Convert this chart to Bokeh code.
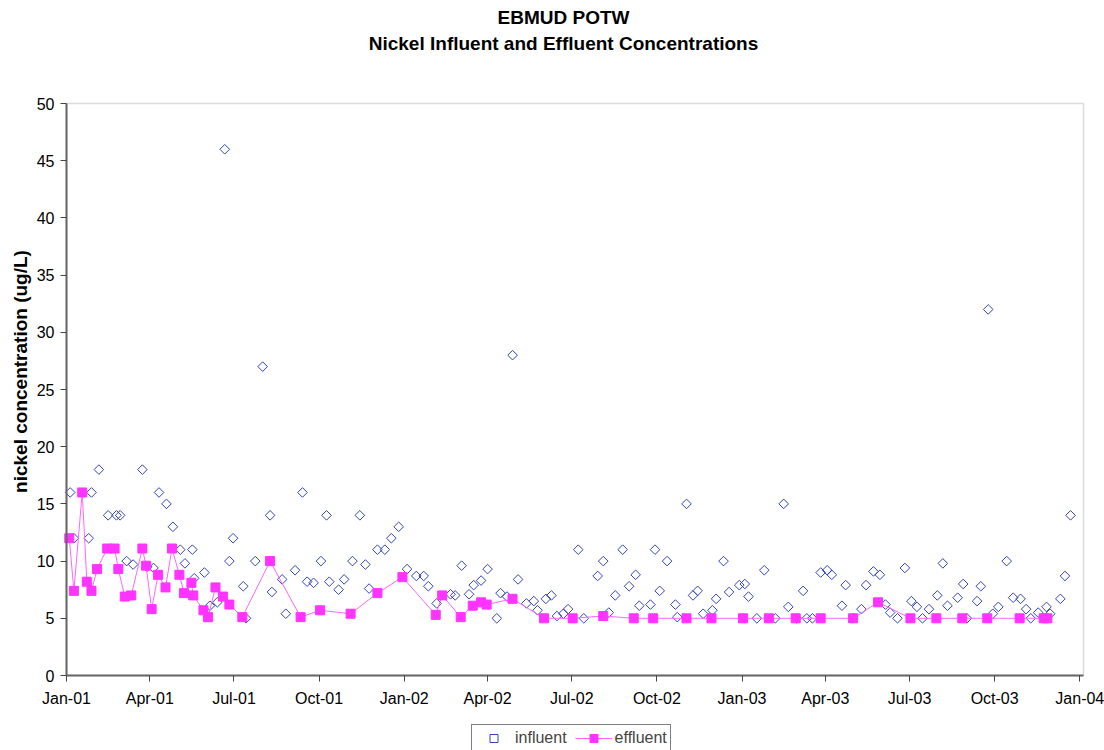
import math
import pandas as pd
from bokeh.plotting import figure
from bokeh.models import (Range1d, FixedTicker, DatetimeTickFormatter, DatetimeAxis, LinearAxis,
                          Label, Legend, LegendItem, BoxAnnotation)
from bokeh.embed import file_html
from bokeh.resources import INLINE

# Nickel sampling results, EBMUD POTW, 2001-2003 (ug/L)
influent_dates = [
    "2001-01-05", "2001-01-09", "2001-01-25", "2001-01-28", "2001-02-05", "2001-02-15",
    "2001-02-24", "2001-02-28", "2001-03-07", "2001-03-14", "2001-03-24", "2001-03-29",
    "2001-04-05", "2001-04-11", "2001-04-19", "2001-04-26", "2001-05-04", "2001-05-09",
    "2001-05-17", "2001-05-19", "2001-05-30", "2001-06-05", "2001-06-13", "2001-06-21",
    "2001-06-26", "2001-06-30", "2001-07-11", "2001-07-14", "2001-07-24", "2001-08-01",
    "2001-08-09", "2001-08-11", "2001-08-22", "2001-08-26", "2001-09-05", "2001-09-13",
    "2001-09-18", "2001-09-25", "2001-10-03", "2001-10-09", "2001-10-12", "2001-10-22",
    "2001-10-28", "2001-11-06", "2001-11-14", "2001-11-20", "2001-11-24", "2001-12-03",
    "2001-12-11", "2001-12-18", "2001-12-26", "2002-01-04", "2002-01-14", "2002-01-22",
    "2002-01-27", "2002-02-05", "2002-02-20", "2002-02-25", "2002-03-04", "2002-03-12",
    "2002-03-17", "2002-03-25", "2002-04-01", "2002-04-11", "2002-04-15", "2002-04-22",
    "2002-04-28", "2002-05-04", "2002-05-13", "2002-05-21", "2002-05-25", "2002-06-03",
    "2002-06-09", "2002-06-15", "2002-06-22", "2002-06-27", "2002-07-08", "2002-07-14",
    "2002-07-29", "2002-08-04", "2002-08-10", "2002-08-17", "2002-08-25", "2002-09-01",
    "2002-09-08", "2002-09-12", "2002-09-24", "2002-09-29", "2002-10-04", "2002-10-12",
    "2002-10-21", "2002-10-23", "2002-11-02", "2002-11-09", "2002-11-14", "2002-11-20",
    "2002-11-30", "2002-12-04", "2002-12-12", "2002-12-18", "2002-12-29", "2003-01-04",
    "2003-01-08", "2003-01-17", "2003-01-25", "2003-02-06", "2003-02-15", "2003-02-20",
    "2003-03-01", "2003-03-08", "2003-03-12", "2003-03-18", "2003-03-27", "2003-04-03",
    "2003-04-08", "2003-04-19", "2003-04-23", "2003-05-01", "2003-05-10", "2003-05-15",
    "2003-05-23", "2003-05-30", "2003-06-05", "2003-06-10", "2003-06-18", "2003-06-26",
    "2003-07-03", "2003-07-09", "2003-07-15", "2003-07-22", "2003-07-31", "2003-08-06",
    "2003-08-11", "2003-08-22", "2003-08-28", "2003-09-01", "2003-09-12", "2003-09-16",
    "2003-09-24", "2003-09-29", "2003-10-05", "2003-10-14", "2003-10-21", "2003-10-29",
    "2003-11-04", "2003-11-09", "2003-11-17", "2003-11-26", "2003-11-30", "2003-12-11",
    "2003-12-16", "2003-12-22",
]
influent_ni = [
    16, 12, 12, 16, 18, 14,
    14, 14, 10, 9.7, 18, 9.5,
    9.4, 16, 15, 13, 11, 9.8,
    11, 8.5, 9.0, 6.1, 6.4, 46,
    10, 12, 7.8, 5.0, 10, 27,
    14, 7.3, 8.4, 5.4, 9.2, 16,
    8.2, 8.1, 10, 14, 8.2, 7.5,
    8.4, 10, 14, 9.7, 7.6, 11,
    11, 12, 13, 9.3, 8.7, 8.7,
    7.8, 6.3, 7.1, 7.0, 9.6, 7.1,
    7.9, 8.3, 9.3, 5.0, 7.2, 6.9,
    28, 8.4, 6.3, 6.5, 5.7, 6.7,
    7.0, 5.2, 5.4, 5.8, 11, 5.0,
    8.7, 10, 5.5, 7.0, 11, 7.8,
    8.8, 6.1, 6.2, 11, 7.4, 10,
    6.2, 5.1, 15, 7.0, 7.4, 5.4,
    5.7, 6.7, 10, 7.3, 7.9, 8.0,
    6.9, 5.0, 9.2, 5.0, 15, 6.0,
    5.0, 7.4, 5.0, 5.0, 9.0, 9.2,
    8.8, 6.1, 7.9, 5.0, 5.8, 7.9,
    9.1, 8.8, 6.2, 5.5, 5.0, 9.4,
    6.5, 6.0, 5.0, 5.8, 7.0, 9.8,
    6.1, 6.8, 8.0, 5.0, 6.5, 7.8,
    32, 5.4, 6.0, 10, 6.8, 6.7,
    5.8, 5.0, 5.5, 6.0, 5.4, 6.7,
    8.7, 14,
]

effluent_dates = [
    "2001-01-04", "2001-01-09", "2001-01-18", "2001-01-23", "2001-01-28", "2001-02-03",
    "2001-02-14", "2001-02-22", "2001-02-26", "2001-03-05", "2001-03-12", "2001-03-24",
    "2001-03-28", "2001-04-03", "2001-04-10", "2001-04-18", "2001-04-25", "2001-05-03",
    "2001-05-08", "2001-05-16", "2001-05-18", "2001-05-29", "2001-06-03", "2001-06-11",
    "2001-06-19", "2001-06-26", "2001-07-10", "2001-08-09", "2001-09-11", "2001-10-02",
    "2001-11-04", "2001-12-03", "2001-12-30", "2002-02-04", "2002-02-11", "2002-03-03",
    "2002-03-16", "2002-03-25", "2002-03-31", "2002-04-28", "2002-06-01", "2002-07-02",
    "2002-08-04", "2002-09-06", "2002-09-27", "2002-11-02", "2002-11-29", "2003-01-02",
    "2003-01-30", "2003-02-28", "2003-03-27", "2003-05-01", "2003-05-28", "2003-07-02",
    "2003-07-30", "2003-08-27", "2003-09-23", "2003-10-28", "2003-11-23", "2003-11-27",
]
effluent_ni = [
    12, 7.4, 16, 8.2, 7.4, 9.3,
    11.1, 11.1, 9.3, 6.9, 7.0, 11.1,
    9.6, 5.8, 8.8, 7.7, 11.1, 8.8,
    7.2, 8.1, 7.0, 5.7, 5.1, 7.7,
    6.9, 6.2, 5.1, 10, 5.1, 5.7,
    5.4, 7.2, 8.6, 5.3, 7.0, 5.1,
    6.1, 6.4, 6.2, 6.7, 5.0, 5.0,
    5.2, 5.0, 5.0, 5.0, 5.0, 5.0,
    5.0, 5.0, 5.0, 5.0, 6.4, 5.0,
    5.0, 5.0, 5.0, 5.0, 5.0, 5.0,
]

tick_dates = [
    "2001-01-01", "2001-04-01", "2001-07-01", "2001-10-01",
    "2002-01-01", "2002-04-01", "2002-07-01", "2002-10-01",
    "2003-01-01", "2003-04-01", "2003-07-01", "2003-10-01",
    "2004-01-01",
]
y_ticks = [0, 5, 10, 15, 20, 25, 30, 35, 40, 45, 50]

FONT = "Liberation Sans"
INF_COLOR = "#3344BB"
EFF_COLOR = "#FF33FF"
W, H = 1104, 750

# plot-area placement on the canvas (pixels); the frame fills the whole canvas and
# the ranges are padded so that the data band lands in this rectangle
LEFT, RIGHT, TOP, BOTTOM = 66, 1083, 103, 675
T0, T1 = pd.Timestamp("2001-01-01"), pd.Timestamp("2004-01-05")
Y0, Y1 = 0, 50
days_per_px = (T1 - T0).days / (RIGHT - LEFT)
units_per_px = (Y1 - Y0) / (BOTTOM - TOP)


def ms(t):
    return pd.Timestamp(t).timestamp() * 1000


x_start = T0 - pd.Timedelta(days=LEFT * days_per_px)
x_end = T1 + pd.Timedelta(days=(W - RIGHT) * days_per_px)

p = figure(
    width=W, height=H,
    x_axis_type="datetime", x_axis_location=None, y_axis_location=None,
    x_range=Range1d(x_start, x_end),
    y_range=Range1d(Y0 - (H - BOTTOM) * units_per_px, Y1 + TOP * units_per_px),
    output_backend="svg", toolbar_location=None,
    min_border=0,
    background_fill_color="white", border_fill_color="white",
)
p.grid.visible = False
p.outline_line_color = None

# plot-area border
p.add_layout(BoxAnnotation(left=ms(T0), right=ms(T1), bottom=Y0, top=Y1, fill_alpha=0,
                           line_color="#8c8c8c", line_width=1.5, level="underlay"))

fmt = "%b-%y"
xaxis = DatetimeAxis(
    fixed_location=Y0, bounds=(ms(T0), ms(T1)),
    ticker=FixedTicker(ticks=[ms(d) for d in tick_dates]),
    formatter=DatetimeTickFormatter(
        days=fmt, months=fmt, years=fmt, hours=fmt, minutes=fmt, seconds=fmt,
        milliseconds=fmt, microseconds=fmt, hourmin=fmt, minsec=fmt,
    ),
    major_label_standoff=8,
)
yaxis = LinearAxis(
    fixed_location=ms(T0), bounds=(Y0, Y1),
    ticker=FixedTicker(ticks=y_ticks),
    major_label_standoff=6,
)
p.add_layout(xaxis, "below")
p.add_layout(yaxis, "left")

for ax in (xaxis, yaxis):
    ax.axis_line_color = "#666666"
    ax.axis_line_width = 2
    ax.major_tick_line_color = "#444444"
    ax.major_tick_line_width = 1
    ax.major_tick_in = 0
    ax.major_tick_out = 6
    ax.minor_tick_line_color = None
    ax.major_label_text_font = FONT
    ax.major_label_text_font_size = "16px"
    ax.major_label_text_color = "black"

# series
inf_x = pd.to_datetime(influent_dates)
eff_x = pd.to_datetime(effluent_dates)

inf = p.scatter(inf_x, influent_ni, marker="square", angle=math.pi / 4, size=6.8,
                fill_color=None, line_color=INF_COLOR, line_width=1)
eff_line = p.line(eff_x, effluent_ni, line_color="#FF66FF", line_width=1)
eff_pts = p.scatter(eff_x, effluent_ni, marker="square", size=9,
                    fill_color=EFF_COLOR, line_color=EFF_COLOR)

# texts placed in canvas pixels (y measured up from the bottom edge)
texts = [
    ("EBMUD POTW", 563, H - 17, 0.0),
    ("Nickel Influent and Effluent Concentrations", 563, H - 43, 0.0),
    ("nickel concentration (ug/L)", 20, H - 371, math.pi / 2),
]
for text, x, y, angle in texts:
    p.add_layout(Label(
        x=x, y=y, x_units="screen", y_units="screen", text=text, angle=angle,
        text_font=FONT, text_font_size="19px", text_font_style="bold",
        text_align="center", text_baseline="middle", text_color="black",
    ))

legend = Legend(
    items=[LegendItem(label="influent", renderers=[inf]),
           LegendItem(label="effluent", renderers=[eff_line, eff_pts])],
    orientation="horizontal", location=(471, -2), margin=0,
    padding=3, spacing=8, glyph_width=37, glyph_height=20, label_height=18,
    label_standoff=3, label_text_font=FONT, label_text_font_size="16px",
    border_line_color="black", border_line_width=1,
    background_fill_color="white", background_fill_alpha=1,
)
p.add_layout(legend)

open("out.html", "w").write(file_html(p, INLINE))
